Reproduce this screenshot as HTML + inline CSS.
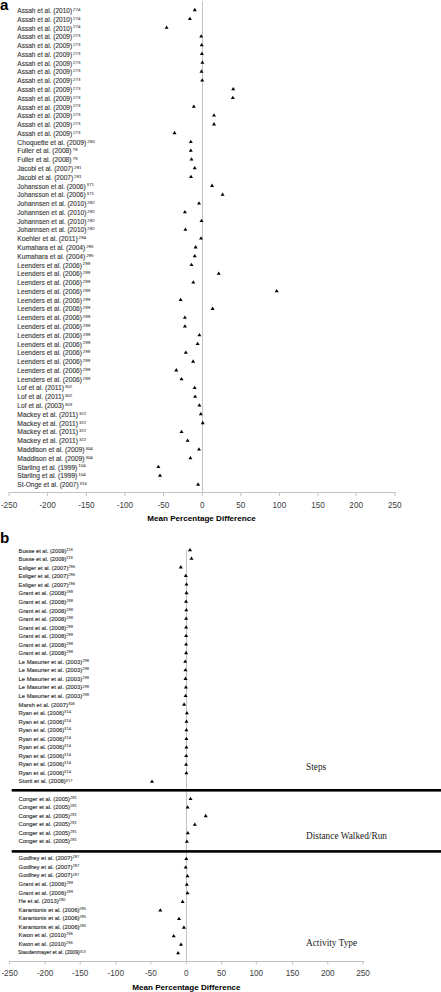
<!DOCTYPE html>
<html><head><meta charset="utf-8"><style>
html,body{margin:0;padding:0;background:#fff;width:441px;height:992px;overflow:hidden}
svg{display:block}
text{font-family:"Liberation Sans",sans-serif}
.ser{font-family:"Liberation Serif",serif}
</style></head><body>
<svg width="441" height="992" viewBox="0 0 441 992">
<rect width="441" height="992" fill="#fff"/>
<text x="0" y="9.6" font-size="15.2" font-weight="bold" fill="#000">a</text>
<text x="0" y="542.8" font-size="15.2" font-weight="bold" fill="#000">b</text>
<g stroke="#c2c2c2" stroke-width="1" fill="none" shape-rendering="crispEdges">
<line x1="202.5" y1="1" x2="202.5" y2="492"/>
<line x1="8.5" y1="492.5" x2="396" y2="492.5"/>
<line x1="9.10" y1="492" x2="9.10" y2="496" shape-rendering="auto"/>
<line x1="47.60" y1="492" x2="47.60" y2="496" shape-rendering="auto"/>
<line x1="86.40" y1="492" x2="86.40" y2="496" shape-rendering="auto"/>
<line x1="124.90" y1="492" x2="124.90" y2="496" shape-rendering="auto"/>
<line x1="163.50" y1="492" x2="163.50" y2="496" shape-rendering="auto"/>
<line x1="202.30" y1="492" x2="202.30" y2="496" shape-rendering="auto"/>
<line x1="240.80" y1="492" x2="240.80" y2="496" shape-rendering="auto"/>
<line x1="279.40" y1="492" x2="279.40" y2="496" shape-rendering="auto"/>
<line x1="318.10" y1="492" x2="318.10" y2="496" shape-rendering="auto"/>
<line x1="356.20" y1="492" x2="356.20" y2="496" shape-rendering="auto"/>
<line x1="394.80" y1="492" x2="394.80" y2="496" shape-rendering="auto"/>
</g>
<g font-size="6.6" fill="#383838" stroke="#383838" stroke-width="0.12">
<text x="17.3" y="12.95" textLength="54.83" lengthAdjust="spacingAndGlyphs">Assah et al. (2010)</text>
<text x="73.03" y="10.85" font-size="4.4" stroke-width="0.06">274</text>
<text x="17.3" y="21.73" textLength="54.83" lengthAdjust="spacingAndGlyphs">Assah et al. (2010)</text>
<text x="73.03" y="19.63" font-size="4.4" stroke-width="0.06">274</text>
<text x="17.3" y="30.51" textLength="54.83" lengthAdjust="spacingAndGlyphs">Assah et al. (2010)</text>
<text x="73.03" y="28.41" font-size="4.4" stroke-width="0.06">274</text>
<text x="17.3" y="39.29" textLength="54.83" lengthAdjust="spacingAndGlyphs">Assah et al. (2009)</text>
<text x="73.03" y="37.19" font-size="4.4" stroke-width="0.06">273</text>
<text x="17.3" y="48.07" textLength="54.83" lengthAdjust="spacingAndGlyphs">Assah et al. (2009)</text>
<text x="73.03" y="45.97" font-size="4.4" stroke-width="0.06">273</text>
<text x="17.3" y="56.85" textLength="54.83" lengthAdjust="spacingAndGlyphs">Assah et al. (2009)</text>
<text x="73.03" y="54.75" font-size="4.4" stroke-width="0.06">273</text>
<text x="17.3" y="65.63" textLength="54.83" lengthAdjust="spacingAndGlyphs">Assah et al. (2009)</text>
<text x="73.03" y="63.53" font-size="4.4" stroke-width="0.06">273</text>
<text x="17.3" y="74.41" textLength="54.83" lengthAdjust="spacingAndGlyphs">Assah et al. (2009)</text>
<text x="73.03" y="72.31" font-size="4.4" stroke-width="0.06">273</text>
<text x="17.3" y="83.19" textLength="54.83" lengthAdjust="spacingAndGlyphs">Assah et al. (2009)</text>
<text x="73.03" y="81.09" font-size="4.4" stroke-width="0.06">273</text>
<text x="17.3" y="91.97" textLength="54.83" lengthAdjust="spacingAndGlyphs">Assah et al. (2009)</text>
<text x="73.03" y="89.87" font-size="4.4" stroke-width="0.06">273</text>
<text x="17.3" y="100.75" textLength="54.83" lengthAdjust="spacingAndGlyphs">Assah et al. (2009)</text>
<text x="73.03" y="98.65" font-size="4.4" stroke-width="0.06">273</text>
<text x="17.3" y="109.53" textLength="54.83" lengthAdjust="spacingAndGlyphs">Assah et al. (2009)</text>
<text x="73.03" y="107.43" font-size="4.4" stroke-width="0.06">273</text>
<text x="17.3" y="118.31" textLength="54.83" lengthAdjust="spacingAndGlyphs">Assah et al. (2009)</text>
<text x="73.03" y="116.21" font-size="4.4" stroke-width="0.06">273</text>
<text x="17.3" y="127.09" textLength="54.83" lengthAdjust="spacingAndGlyphs">Assah et al. (2009)</text>
<text x="73.03" y="124.99" font-size="4.4" stroke-width="0.06">273</text>
<text x="17.3" y="135.87" textLength="54.83" lengthAdjust="spacingAndGlyphs">Assah et al. (2009)</text>
<text x="73.03" y="133.77" font-size="4.4" stroke-width="0.06">273</text>
<text x="17.3" y="144.65" textLength="69.05" lengthAdjust="spacingAndGlyphs">Choquette et al. (2009)</text>
<text x="87.25" y="142.55" font-size="4.4" stroke-width="0.06">280</text>
<text x="17.3" y="153.43" textLength="54.28" lengthAdjust="spacingAndGlyphs">Fuller et al. (2008)</text>
<text x="72.48" y="151.33" font-size="4.4" stroke-width="0.06">79</text>
<text x="17.3" y="162.21" textLength="54.28" lengthAdjust="spacingAndGlyphs">Fuller et al. (2008)</text>
<text x="72.48" y="160.11" font-size="4.4" stroke-width="0.06">79</text>
<text x="17.3" y="170.99" textLength="55.85" lengthAdjust="spacingAndGlyphs">Jacobi et al. (2007)</text>
<text x="74.05" y="168.89" font-size="4.4" stroke-width="0.06">291</text>
<text x="17.3" y="179.77" textLength="55.85" lengthAdjust="spacingAndGlyphs">Jacobi et al. (2007)</text>
<text x="74.05" y="177.67" font-size="4.4" stroke-width="0.06">291</text>
<text x="17.3" y="188.55" textLength="68.38" lengthAdjust="spacingAndGlyphs">Johansson et al. (2006)</text>
<text x="86.58" y="186.45" font-size="4.4" stroke-width="0.06">371</text>
<text x="17.3" y="197.33" textLength="68.38" lengthAdjust="spacingAndGlyphs">Johansson et al. (2006)</text>
<text x="86.58" y="195.23" font-size="4.4" stroke-width="0.06">371</text>
<text x="17.3" y="206.11" textLength="69.15" lengthAdjust="spacingAndGlyphs">Johannsen et al. (2010)</text>
<text x="87.35" y="204.01" font-size="4.4" stroke-width="0.06">292</text>
<text x="17.3" y="214.89" textLength="69.15" lengthAdjust="spacingAndGlyphs">Johannsen et al. (2010)</text>
<text x="87.35" y="212.79" font-size="4.4" stroke-width="0.06">292</text>
<text x="17.3" y="223.67" textLength="69.15" lengthAdjust="spacingAndGlyphs">Johannsen et al. (2010)</text>
<text x="87.35" y="221.57" font-size="4.4" stroke-width="0.06">292</text>
<text x="17.3" y="232.45" textLength="69.15" lengthAdjust="spacingAndGlyphs">Johannsen et al. (2010)</text>
<text x="87.35" y="230.35" font-size="4.4" stroke-width="0.06">292</text>
<text x="17.3" y="241.23" textLength="60.56" lengthAdjust="spacingAndGlyphs">Koehler et al. (2011)</text>
<text x="78.76" y="239.13" font-size="4.4" stroke-width="0.06">294</text>
<text x="17.3" y="250.01" textLength="67.97" lengthAdjust="spacingAndGlyphs">Kumahara et al. (2004)</text>
<text x="86.17" y="247.91" font-size="4.4" stroke-width="0.06">295</text>
<text x="17.3" y="258.79" textLength="67.97" lengthAdjust="spacingAndGlyphs">Kumahara et al. (2004)</text>
<text x="86.17" y="256.69" font-size="4.4" stroke-width="0.06">295</text>
<text x="17.3" y="267.57" textLength="64.66" lengthAdjust="spacingAndGlyphs">Leenders et al. (2006)</text>
<text x="82.86" y="265.47" font-size="4.4" stroke-width="0.06">299</text>
<text x="17.3" y="276.35" textLength="64.66" lengthAdjust="spacingAndGlyphs">Leenders et al. (2006)</text>
<text x="82.86" y="274.25" font-size="4.4" stroke-width="0.06">299</text>
<text x="17.3" y="285.13" textLength="64.66" lengthAdjust="spacingAndGlyphs">Leenders et al. (2006)</text>
<text x="82.86" y="283.03" font-size="4.4" stroke-width="0.06">299</text>
<text x="17.3" y="293.91" textLength="64.66" lengthAdjust="spacingAndGlyphs">Leenders et al. (2006)</text>
<text x="82.86" y="291.81" font-size="4.4" stroke-width="0.06">299</text>
<text x="17.3" y="302.69" textLength="64.66" lengthAdjust="spacingAndGlyphs">Leenders et al. (2006)</text>
<text x="82.86" y="300.59" font-size="4.4" stroke-width="0.06">299</text>
<text x="17.3" y="311.47" textLength="64.66" lengthAdjust="spacingAndGlyphs">Leenders et al. (2006)</text>
<text x="82.86" y="309.37" font-size="4.4" stroke-width="0.06">299</text>
<text x="17.3" y="320.25" textLength="64.66" lengthAdjust="spacingAndGlyphs">Leenders et al. (2006)</text>
<text x="82.86" y="318.15" font-size="4.4" stroke-width="0.06">299</text>
<text x="17.3" y="329.03" textLength="64.66" lengthAdjust="spacingAndGlyphs">Leenders et al. (2006)</text>
<text x="82.86" y="326.93" font-size="4.4" stroke-width="0.06">299</text>
<text x="17.3" y="337.81" textLength="64.66" lengthAdjust="spacingAndGlyphs">Leenders et al. (2006)</text>
<text x="82.86" y="335.71" font-size="4.4" stroke-width="0.06">299</text>
<text x="17.3" y="346.59" textLength="64.66" lengthAdjust="spacingAndGlyphs">Leenders et al. (2006)</text>
<text x="82.86" y="344.49" font-size="4.4" stroke-width="0.06">299</text>
<text x="17.3" y="355.37" textLength="64.66" lengthAdjust="spacingAndGlyphs">Leenders et al. (2006)</text>
<text x="82.86" y="353.27" font-size="4.4" stroke-width="0.06">299</text>
<text x="17.3" y="364.15" textLength="64.66" lengthAdjust="spacingAndGlyphs">Leenders et al. (2006)</text>
<text x="82.86" y="362.05" font-size="4.4" stroke-width="0.06">299</text>
<text x="17.3" y="372.93" textLength="64.66" lengthAdjust="spacingAndGlyphs">Leenders et al. (2006)</text>
<text x="82.86" y="370.83" font-size="4.4" stroke-width="0.06">299</text>
<text x="17.3" y="381.71" textLength="64.66" lengthAdjust="spacingAndGlyphs">Leenders et al. (2006)</text>
<text x="82.86" y="379.61" font-size="4.4" stroke-width="0.06">299</text>
<text x="17.3" y="390.49" textLength="46.67" lengthAdjust="spacingAndGlyphs">Lof et al. (2011)</text>
<text x="64.87" y="388.39" font-size="4.4" stroke-width="0.06">302</text>
<text x="17.3" y="399.27" textLength="46.67" lengthAdjust="spacingAndGlyphs">Lof et al. (2011)</text>
<text x="64.87" y="397.17" font-size="4.4" stroke-width="0.06">302</text>
<text x="17.3" y="408.05" textLength="46.67" lengthAdjust="spacingAndGlyphs">Lof et al. (2003)</text>
<text x="64.87" y="405.95" font-size="4.4" stroke-width="0.06">303</text>
<text x="17.3" y="416.83" textLength="60.68" lengthAdjust="spacingAndGlyphs">Mackey et al. (2011)</text>
<text x="78.88" y="414.73" font-size="4.4" stroke-width="0.06">322</text>
<text x="17.3" y="425.61" textLength="60.68" lengthAdjust="spacingAndGlyphs">Mackey et al. (2011)</text>
<text x="78.88" y="423.51" font-size="4.4" stroke-width="0.06">322</text>
<text x="17.3" y="434.39" textLength="60.68" lengthAdjust="spacingAndGlyphs">Mackey et al. (2011)</text>
<text x="78.88" y="432.29" font-size="4.4" stroke-width="0.06">322</text>
<text x="17.3" y="443.17" textLength="60.68" lengthAdjust="spacingAndGlyphs">Mackey et al. (2011)</text>
<text x="78.88" y="441.07" font-size="4.4" stroke-width="0.06">322</text>
<text x="17.3" y="451.95" textLength="67.26" lengthAdjust="spacingAndGlyphs">Maddison et al. (2009)</text>
<text x="85.46" y="449.85" font-size="4.4" stroke-width="0.06">304</text>
<text x="17.3" y="460.73" textLength="67.26" lengthAdjust="spacingAndGlyphs">Maddison et al. (2009)</text>
<text x="85.46" y="458.63" font-size="4.4" stroke-width="0.06">304</text>
<text x="17.3" y="469.51" textLength="60.06" lengthAdjust="spacingAndGlyphs">Starling et al. (1999)</text>
<text x="78.26" y="467.41" font-size="4.4" stroke-width="0.06">104</text>
<text x="17.3" y="478.29" textLength="60.06" lengthAdjust="spacingAndGlyphs">Starling et al. (1999)</text>
<text x="78.26" y="476.19" font-size="4.4" stroke-width="0.06">104</text>
<text x="17.3" y="487.07" textLength="61.38" lengthAdjust="spacingAndGlyphs">St-Onge et al. (2007)</text>
<text x="79.58" y="484.97" font-size="4.4" stroke-width="0.06">316</text>
</g>
<g fill="#000">
<polygon points="192.80,11.15 196.80,11.15 194.80,7.85"/>
<polygon points="187.90,19.94 191.90,19.94 189.90,16.64"/>
<polygon points="164.60,28.72 168.60,28.72 166.60,25.42"/>
<polygon points="199.20,37.51 203.20,37.51 201.20,34.21"/>
<polygon points="199.70,46.30 203.70,46.30 201.70,43.00"/>
<polygon points="199.90,55.09 203.90,55.09 201.90,51.79"/>
<polygon points="200.40,63.87 204.40,63.87 202.40,60.57"/>
<polygon points="199.50,72.66 203.50,72.66 201.50,69.36"/>
<polygon points="200.20,81.45 204.20,81.45 202.20,78.15"/>
<polygon points="231.20,90.23 235.20,90.23 233.20,86.93"/>
<polygon points="230.80,99.02 234.80,99.02 232.80,95.72"/>
<polygon points="191.80,107.81 195.80,107.81 193.80,104.51"/>
<polygon points="212.00,116.59 216.00,116.59 214.00,113.29"/>
<polygon points="212.00,125.38 216.00,125.38 214.00,122.08"/>
<polygon points="172.50,134.17 176.50,134.17 174.50,130.87"/>
<polygon points="188.80,142.96 192.80,142.96 190.80,139.66"/>
<polygon points="188.80,151.74 192.80,151.74 190.80,148.44"/>
<polygon points="189.50,160.53 193.50,160.53 191.50,157.23"/>
<polygon points="192.70,169.32 196.70,169.32 194.70,166.02"/>
<polygon points="189.00,178.10 193.00,178.10 191.00,174.80"/>
<polygon points="210.10,186.89 214.10,186.89 212.10,183.59"/>
<polygon points="220.60,195.68 224.60,195.68 222.60,192.38"/>
<polygon points="197.00,204.46 201.00,204.46 199.00,201.16"/>
<polygon points="182.90,213.25 186.90,213.25 184.90,209.95"/>
<polygon points="199.50,222.04 203.50,222.04 201.50,218.74"/>
<polygon points="183.40,230.83 187.40,230.83 185.40,227.53"/>
<polygon points="199.00,239.61 203.00,239.61 201.00,236.31"/>
<polygon points="193.60,248.40 197.60,248.40 195.60,245.10"/>
<polygon points="192.70,257.19 196.70,257.19 194.70,253.89"/>
<polygon points="189.50,265.97 193.50,265.97 191.50,262.67"/>
<polygon points="216.70,274.76 220.70,274.76 218.70,271.46"/>
<polygon points="191.30,283.55 195.30,283.55 193.30,280.25"/>
<polygon points="274.70,292.33 278.70,292.33 276.70,289.03"/>
<polygon points="178.60,301.12 182.60,301.12 180.60,297.82"/>
<polygon points="210.60,309.91 214.60,309.91 212.60,306.61"/>
<polygon points="182.90,318.69 186.90,318.69 184.90,315.40"/>
<polygon points="182.90,327.48 186.90,327.48 184.90,324.18"/>
<polygon points="197.40,336.27 201.40,336.27 199.40,332.97"/>
<polygon points="195.60,345.06 199.60,345.06 197.60,341.76"/>
<polygon points="183.80,353.84 187.80,353.84 185.80,350.54"/>
<polygon points="191.10,362.63 195.10,362.63 193.10,359.33"/>
<polygon points="174.30,371.42 178.30,371.42 176.30,368.12"/>
<polygon points="179.50,380.20 183.50,380.20 181.50,376.90"/>
<polygon points="192.70,388.99 196.70,388.99 194.70,385.69"/>
<polygon points="193.10,397.78 197.10,397.78 195.10,394.48"/>
<polygon points="197.40,406.56 201.40,406.56 199.40,403.27"/>
<polygon points="198.80,415.35 202.80,415.35 200.80,412.05"/>
<polygon points="200.80,424.14 204.80,424.14 202.80,420.84"/>
<polygon points="179.50,432.93 183.50,432.93 181.50,429.63"/>
<polygon points="185.60,441.71 189.60,441.71 187.60,438.41"/>
<polygon points="197.00,450.50 201.00,450.50 199.00,447.20"/>
<polygon points="188.40,459.29 192.40,459.29 190.40,455.99"/>
<polygon points="156.40,468.07 160.40,468.07 158.40,464.77"/>
<polygon points="158.00,476.86 162.00,476.86 160.00,473.56"/>
<polygon points="196.10,485.65 200.10,485.65 198.10,482.35"/>
</g>
<g font-size="8.2" fill="#404040" text-anchor="middle">
<text x="9.10" y="507.9">-250</text>
<text x="47.60" y="507.9">-200</text>
<text x="86.40" y="507.9">-150</text>
<text x="124.90" y="507.9">-100</text>
<text x="163.50" y="507.9">-50</text>
<text x="202.30" y="507.9">0</text>
<text x="240.80" y="507.9">50</text>
<text x="279.40" y="507.9">100</text>
<text x="318.10" y="507.9">150</text>
<text x="356.20" y="507.9">200</text>
<text x="394.80" y="507.9">250</text>
</g>
<text x="201.5" y="521" font-size="8.1" font-weight="bold" text-anchor="middle" fill="#000">Mean Percentage Difference</text>
<g stroke="#c2c2c2" stroke-width="1" fill="none" shape-rendering="crispEdges">
<line x1="186.5" y1="549.5" x2="186.5" y2="961"/>
<line x1="9" y1="961.5" x2="364" y2="961.5"/>
<line x1="9.60" y1="961" x2="9.60" y2="964.5" shape-rendering="auto"/>
<line x1="45.10" y1="961" x2="45.10" y2="964.5" shape-rendering="auto"/>
<line x1="80.20" y1="961" x2="80.20" y2="964.5" shape-rendering="auto"/>
<line x1="115.80" y1="961" x2="115.80" y2="964.5" shape-rendering="auto"/>
<line x1="150.90" y1="961" x2="150.90" y2="964.5" shape-rendering="auto"/>
<line x1="186.40" y1="961" x2="186.40" y2="964.5" shape-rendering="auto"/>
<line x1="221.60" y1="961" x2="221.60" y2="964.5" shape-rendering="auto"/>
<line x1="256.30" y1="961" x2="256.30" y2="964.5" shape-rendering="auto"/>
<line x1="292.60" y1="961" x2="292.60" y2="964.5" shape-rendering="auto"/>
<line x1="327.80" y1="961" x2="327.80" y2="964.5" shape-rendering="auto"/>
<line x1="363.10" y1="961" x2="363.10" y2="964.5" shape-rendering="auto"/>
</g>
<rect x="11.7" y="789" width="429.3" height="2.6" fill="#000"/>
<rect x="11.7" y="850.1" width="429.3" height="2.6" fill="#000"/>
<g font-size="5.85" fill="#353535" stroke="#353535" stroke-width="0.15">
<text x="18.6" y="552.70" textLength="47.85" lengthAdjust="spacingAndGlyphs">Busse et al. (2009)</text>
<text x="66.35" y="550.75" font-size="4.1" stroke-width="0.05">118</text>
<text x="18.6" y="561.25" textLength="47.85" lengthAdjust="spacingAndGlyphs">Busse et al. (2009)</text>
<text x="66.35" y="559.30" font-size="4.1" stroke-width="0.05">118</text>
<text x="18.6" y="569.79" textLength="49.82" lengthAdjust="spacingAndGlyphs">Esliger et al. (2007)</text>
<text x="68.32" y="567.84" font-size="4.1" stroke-width="0.05">286</text>
<text x="18.6" y="578.34" textLength="49.82" lengthAdjust="spacingAndGlyphs">Esliger et al. (2007)</text>
<text x="68.32" y="576.39" font-size="4.1" stroke-width="0.05">286</text>
<text x="18.6" y="586.89" textLength="49.82" lengthAdjust="spacingAndGlyphs">Esliger et al. (2007)</text>
<text x="68.32" y="584.94" font-size="4.1" stroke-width="0.05">286</text>
<text x="18.6" y="595.44" textLength="47.66" lengthAdjust="spacingAndGlyphs">Grant et al. (2008)</text>
<text x="66.16" y="593.49" font-size="4.1" stroke-width="0.05">288</text>
<text x="18.6" y="603.98" textLength="47.66" lengthAdjust="spacingAndGlyphs">Grant et al. (2008)</text>
<text x="66.16" y="602.03" font-size="4.1" stroke-width="0.05">288</text>
<text x="18.6" y="612.53" textLength="47.66" lengthAdjust="spacingAndGlyphs">Grant et al. (2008)</text>
<text x="66.16" y="610.58" font-size="4.1" stroke-width="0.05">288</text>
<text x="18.6" y="621.08" textLength="47.66" lengthAdjust="spacingAndGlyphs">Grant et al. (2008)</text>
<text x="66.16" y="619.13" font-size="4.1" stroke-width="0.05">288</text>
<text x="18.6" y="629.62" textLength="47.66" lengthAdjust="spacingAndGlyphs">Grant et al. (2008)</text>
<text x="66.16" y="627.67" font-size="4.1" stroke-width="0.05">288</text>
<text x="18.6" y="638.17" textLength="47.66" lengthAdjust="spacingAndGlyphs">Grant et al. (2008)</text>
<text x="66.16" y="636.22" font-size="4.1" stroke-width="0.05">288</text>
<text x="18.6" y="646.72" textLength="47.66" lengthAdjust="spacingAndGlyphs">Grant et al. (2008)</text>
<text x="66.16" y="644.77" font-size="4.1" stroke-width="0.05">288</text>
<text x="18.6" y="655.26" textLength="47.66" lengthAdjust="spacingAndGlyphs">Grant et al. (2008)</text>
<text x="66.16" y="653.31" font-size="4.1" stroke-width="0.05">288</text>
<text x="18.6" y="663.81" textLength="63.71" lengthAdjust="spacingAndGlyphs">Le Masurier et al. (2003)</text>
<text x="82.21" y="661.86" font-size="4.1" stroke-width="0.05">298</text>
<text x="18.6" y="672.36" textLength="63.71" lengthAdjust="spacingAndGlyphs">Le Masurier et al. (2003)</text>
<text x="82.21" y="670.41" font-size="4.1" stroke-width="0.05">298</text>
<text x="18.6" y="680.91" textLength="63.71" lengthAdjust="spacingAndGlyphs">Le Masurier et al. (2003)</text>
<text x="82.21" y="678.96" font-size="4.1" stroke-width="0.05">298</text>
<text x="18.6" y="689.45" textLength="63.71" lengthAdjust="spacingAndGlyphs">Le Masurier et al. (2003)</text>
<text x="82.21" y="687.50" font-size="4.1" stroke-width="0.05">298</text>
<text x="18.6" y="698.00" textLength="63.71" lengthAdjust="spacingAndGlyphs">Le Masurier et al. (2003)</text>
<text x="82.21" y="696.05" font-size="4.1" stroke-width="0.05">298</text>
<text x="18.6" y="706.55" textLength="49.46" lengthAdjust="spacingAndGlyphs">Marsh et al. (2007)</text>
<text x="67.96" y="704.60" font-size="4.1" stroke-width="0.05">306</text>
<text x="18.6" y="715.09" textLength="45.62" lengthAdjust="spacingAndGlyphs">Ryan et al. (2006)</text>
<text x="64.12" y="713.14" font-size="4.1" stroke-width="0.05">314</text>
<text x="18.6" y="723.64" textLength="45.62" lengthAdjust="spacingAndGlyphs">Ryan et al. (2006)</text>
<text x="64.12" y="721.69" font-size="4.1" stroke-width="0.05">314</text>
<text x="18.6" y="732.19" textLength="45.62" lengthAdjust="spacingAndGlyphs">Ryan et al. (2006)</text>
<text x="64.12" y="730.24" font-size="4.1" stroke-width="0.05">314</text>
<text x="18.6" y="740.73" textLength="45.62" lengthAdjust="spacingAndGlyphs">Ryan et al. (2006)</text>
<text x="64.12" y="738.78" font-size="4.1" stroke-width="0.05">314</text>
<text x="18.6" y="749.28" textLength="45.62" lengthAdjust="spacingAndGlyphs">Ryan et al. (2006)</text>
<text x="64.12" y="747.33" font-size="4.1" stroke-width="0.05">314</text>
<text x="18.6" y="757.83" textLength="45.62" lengthAdjust="spacingAndGlyphs">Ryan et al. (2006)</text>
<text x="64.12" y="755.88" font-size="4.1" stroke-width="0.05">314</text>
<text x="18.6" y="766.38" textLength="45.62" lengthAdjust="spacingAndGlyphs">Ryan et al. (2006)</text>
<text x="64.12" y="764.42" font-size="4.1" stroke-width="0.05">314</text>
<text x="18.6" y="774.92" textLength="45.62" lengthAdjust="spacingAndGlyphs">Ryan et al. (2006)</text>
<text x="64.12" y="772.97" font-size="4.1" stroke-width="0.05">314</text>
<text x="18.6" y="783.47" textLength="47.12" lengthAdjust="spacingAndGlyphs">Storti et al. (2008)</text>
<text x="65.62" y="781.52" font-size="4.1" stroke-width="0.05">317</text>
<text x="18.6" y="800.56" textLength="51.41" lengthAdjust="spacingAndGlyphs">Conger et al. (2005)</text>
<text x="69.91" y="798.61" font-size="4.1" stroke-width="0.05">281</text>
<text x="18.6" y="809.11" textLength="51.41" lengthAdjust="spacingAndGlyphs">Conger et al. (2005)</text>
<text x="69.91" y="807.16" font-size="4.1" stroke-width="0.05">281</text>
<text x="18.6" y="817.66" textLength="51.41" lengthAdjust="spacingAndGlyphs">Conger et al. (2005)</text>
<text x="69.91" y="815.71" font-size="4.1" stroke-width="0.05">281</text>
<text x="18.6" y="826.20" textLength="51.41" lengthAdjust="spacingAndGlyphs">Conger et al. (2005)</text>
<text x="69.91" y="824.25" font-size="4.1" stroke-width="0.05">281</text>
<text x="18.6" y="834.75" textLength="51.41" lengthAdjust="spacingAndGlyphs">Conger et al. (2005)</text>
<text x="69.91" y="832.80" font-size="4.1" stroke-width="0.05">281</text>
<text x="18.6" y="843.30" textLength="51.41" lengthAdjust="spacingAndGlyphs">Conger et al. (2005)</text>
<text x="69.91" y="841.35" font-size="4.1" stroke-width="0.05">281</text>
<text x="18.6" y="860.39" textLength="53.88" lengthAdjust="spacingAndGlyphs">Godfrey et al. (2007)</text>
<text x="72.38" y="858.44" font-size="4.1" stroke-width="0.05">287</text>
<text x="18.6" y="868.94" textLength="53.88" lengthAdjust="spacingAndGlyphs">Godfrey et al. (2007)</text>
<text x="72.38" y="866.99" font-size="4.1" stroke-width="0.05">287</text>
<text x="18.6" y="877.49" textLength="53.88" lengthAdjust="spacingAndGlyphs">Godfrey et al. (2007)</text>
<text x="72.38" y="875.54" font-size="4.1" stroke-width="0.05">287</text>
<text x="18.6" y="886.03" textLength="47.66" lengthAdjust="spacingAndGlyphs">Grant et al. (2006)</text>
<text x="66.16" y="884.08" font-size="4.1" stroke-width="0.05">289</text>
<text x="18.6" y="894.58" textLength="47.66" lengthAdjust="spacingAndGlyphs">Grant et al. (2006)</text>
<text x="66.16" y="892.63" font-size="4.1" stroke-width="0.05">289</text>
<text x="18.6" y="903.13" textLength="39.97" lengthAdjust="spacingAndGlyphs">He et al. (2013)</text>
<text x="58.47" y="901.18" font-size="4.1" stroke-width="0.05">290</text>
<text x="18.6" y="911.67" textLength="60.76" lengthAdjust="spacingAndGlyphs">Karantonis et al. (2006)</text>
<text x="79.26" y="909.72" font-size="4.1" stroke-width="0.05">285</text>
<text x="18.6" y="920.22" textLength="60.76" lengthAdjust="spacingAndGlyphs">Karantonis et al. (2006)</text>
<text x="79.26" y="918.27" font-size="4.1" stroke-width="0.05">285</text>
<text x="18.6" y="928.77" textLength="60.76" lengthAdjust="spacingAndGlyphs">Karantonis et al. (2006)</text>
<text x="79.26" y="926.82" font-size="4.1" stroke-width="0.05">285</text>
<text x="18.6" y="937.32" textLength="47.46" lengthAdjust="spacingAndGlyphs">Kwon et al. (2010)</text>
<text x="65.96" y="935.37" font-size="4.1" stroke-width="0.05">296</text>
<text x="18.6" y="945.86" textLength="47.46" lengthAdjust="spacingAndGlyphs">Kwon et al. (2010)</text>
<text x="65.96" y="943.91" font-size="4.1" stroke-width="0.05">296</text>
<text x="17.9" y="954.41" font-size="5.1" textLength="61.87" lengthAdjust="spacingAndGlyphs">Staudenmayer et al. (2009)</text>
<text x="79.67" y="952.71" font-size="3.6" stroke-width="0.05">313</text>
</g>
<g fill="#000">
<polygon points="188.00,551.25 192.00,551.25 190.00,547.95"/>
<polygon points="189.50,559.83 193.50,559.83 191.50,556.53"/>
<polygon points="178.80,568.40 182.80,568.40 180.80,565.10"/>
<polygon points="183.80,576.98 187.80,576.98 185.80,573.68"/>
<polygon points="184.50,585.56 188.50,585.56 186.50,582.26"/>
<polygon points="184.50,594.13 188.50,594.13 186.50,590.84"/>
<polygon points="184.00,602.71 188.00,602.71 186.00,599.41"/>
<polygon points="184.30,611.29 188.30,611.29 186.30,607.99"/>
<polygon points="184.10,619.87 188.10,619.87 186.10,616.57"/>
<polygon points="184.10,628.44 188.10,628.44 186.10,625.14"/>
<polygon points="184.10,637.02 188.10,637.02 186.10,633.72"/>
<polygon points="184.10,645.60 188.10,645.60 186.10,642.30"/>
<polygon points="184.10,654.17 188.10,654.17 186.10,650.87"/>
<polygon points="183.20,662.75 187.20,662.75 185.20,659.45"/>
<polygon points="183.50,671.33 187.50,671.33 185.50,668.03"/>
<polygon points="183.50,679.90 187.50,679.90 185.50,676.61"/>
<polygon points="183.90,688.48 187.90,688.48 185.90,685.18"/>
<polygon points="183.60,697.06 187.60,697.06 185.60,693.76"/>
<polygon points="182.10,705.64 186.10,705.64 184.10,702.34"/>
<polygon points="184.90,714.21 188.90,714.21 186.90,710.91"/>
<polygon points="184.50,722.79 188.50,722.79 186.50,719.49"/>
<polygon points="184.40,731.37 188.40,731.37 186.40,728.07"/>
<polygon points="184.40,739.94 188.40,739.94 186.40,736.64"/>
<polygon points="184.40,748.52 188.40,748.52 186.40,745.22"/>
<polygon points="184.20,757.10 188.20,757.10 186.20,753.80"/>
<polygon points="184.10,765.68 188.10,765.68 186.10,762.38"/>
<polygon points="184.40,774.25 188.40,774.25 186.40,770.95"/>
<polygon points="150.00,782.83 154.00,782.83 152.00,779.53"/>
<polygon points="188.50,799.98 192.50,799.98 190.50,796.68"/>
<polygon points="185.60,808.56 189.60,808.56 187.60,805.26"/>
<polygon points="203.70,817.14 207.70,817.14 205.70,813.84"/>
<polygon points="192.80,825.71 196.80,825.71 194.80,822.41"/>
<polygon points="185.80,834.29 189.80,834.29 187.80,830.99"/>
<polygon points="184.90,842.87 188.90,842.87 186.90,839.57"/>
<polygon points="184.30,860.02 188.30,860.02 186.30,856.72"/>
<polygon points="183.70,868.60 187.70,868.60 185.70,865.30"/>
<polygon points="185.50,877.18 189.50,877.18 187.50,873.88"/>
<polygon points="184.80,885.75 188.80,885.75 186.80,882.45"/>
<polygon points="185.50,894.33 189.50,894.33 187.50,891.03"/>
<polygon points="180.60,902.91 184.60,902.91 182.60,899.61"/>
<polygon points="158.30,911.48 162.30,911.48 160.30,908.18"/>
<polygon points="177.00,920.06 181.00,920.06 179.00,916.76"/>
<polygon points="181.90,928.64 185.90,928.64 183.90,925.34"/>
<polygon points="171.70,937.22 175.70,937.22 173.70,933.92"/>
<polygon points="179.00,945.79 183.00,945.79 181.00,942.49"/>
<polygon points="176.10,954.37 180.10,954.37 178.10,951.07"/>
</g>
<g font-size="8.2" fill="#404040" text-anchor="middle">
<text x="9.60" y="976">-250</text>
<text x="45.10" y="976">-200</text>
<text x="80.20" y="976">-150</text>
<text x="115.80" y="976">-100</text>
<text x="150.90" y="976">-50</text>
<text x="186.40" y="976">0</text>
<text x="221.60" y="976">50</text>
<text x="256.30" y="976">100</text>
<text x="292.60" y="976">150</text>
<text x="327.80" y="976">200</text>
<text x="363.10" y="976">250</text>
</g>
<text x="186.4" y="989.8" font-size="8.1" font-weight="bold" text-anchor="middle" fill="#000">Mean Percentage Difference</text>
<g class="ser" font-size="9.3" fill="#1a1a1a">
<text class="ser" x="306" y="770.0">Steps</text>
<text class="ser" x="306" y="838.5">Distance Walked/Run</text>
<text class="ser" x="306" y="945.9">Activity Type</text>
</g>
</svg></body></html>
